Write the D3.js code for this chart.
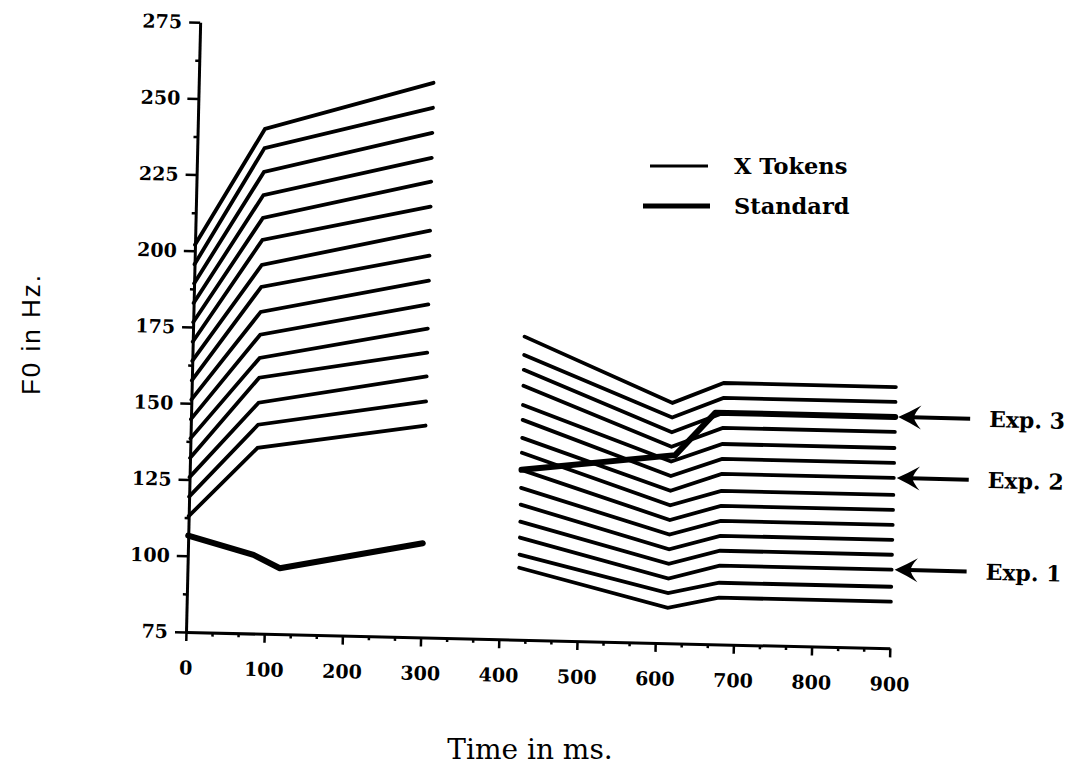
<!DOCTYPE html>
<html><head><meta charset="utf-8">
<script src="https://cdn.jsdelivr.net/npm/d3@7"></script>
<style>body{margin:0;background:#fff}</style>
</head><body>
<svg id="chart" width="1077" height="778"></svg>
<script>
// ---- data ----
const xTickValues = [0,100,200,300,400,500,600,700,800,900];
const yTickValues = [75,100,125,150,175,200,225,250,275];
const earlyTimes = [0, 86, 300];
const earlyOnset = [202.0,195.6,189.3,182.9,176.6,170.2,163.9,157.5,151.2,144.8,138.5,132.1,125.8,119.4,113.0];
const earlyPeak  = [240.5,234.2,226.4,218.8,211.3,204.1,195.9,188.7,180.5,173.0,165.4,158.9,150.7,143.5,135.9];
const earlyOffset= [256.9,248.7,240.5,232.3,224.5,216.3,208.4,200.2,192.0,184.2,176.3,168.4,160.6,152.4,144.5];
const lateTimes = [424, 615, 680, 900];
const lateOnset = [174.4,168.4,163.5,158.3,152.0,147.1,141.2,136.3,130.7,124.8,119.3,113.7,108.5,102.9,98.6];
const lateDip   = [153.8,149.0,144.2,139.4,134.6,129.8,125.0,120.2,115.4,110.6,105.8,101.0,96.2,91.4,86.6];
const lateLevel = [160.7,155.8,150.9,146.0,140.7,135.8,130.9,125.3,120.4,115.5,110.6,105.7,100.8,95.2,90.3];
const standardEarlyTimes = [0, 84, 118, 300];
const standardEarly = [106.6, 100.8, 96.6, 105.9];
const standardLateTimes = [424, 620, 670, 900];
const standardLate = [130.7, 136.7, 150.9, 150.9];
const expLabels = ["Exp. 3", "Exp. 2", "Exp. 1"];
const expLine = [2, 6, 12];
const legendLabels = ["X Tokens", "Standard"];
const xTitle = "Time in ms.";
const yTitle = "F0 in Hz.";

// ---- drawing ----
const svg = d3.select("#chart");
const x = d3.scaleLinear().domain([0, 900]).range([0, 704]);
const y = d3.scaleLinear().domain([75, 275]).range([0, -610]);
const g = svg.append("g").attr("transform", "translate(186,632) rotate(1.33)");
const serif = "'DejaVu Serif', 'Liberation Serif', serif";

// x axis
g.append("g").call(d3.axisBottom(x).tickValues(xTickValues)
  .tickSizeInner(9).tickSizeOuter(0).tickPadding(20));
const minorX = d3.range(0, 900, 100/3).filter((d,i) => i % 3 !== 0);
g.append("g").call(d3.axisBottom(x).tickValues(minorX).tickSize(4).tickFormat(""))
  .select(".domain").remove();
// y axis
g.append("g").call(d3.axisLeft(y).tickValues(yTickValues)
  .tickSizeInner(11).tickSizeOuter(0).tickPadding(7));
const minorY = yTickValues.slice(0, -1).map(v => v + 12.5);
g.append("g").call(d3.axisLeft(y).tickValues(minorY).tickSize(4).tickFormat(""))
  .select(".domain").remove();

g.selectAll(".domain").attr("stroke", "#000").attr("stroke-width", 3);
g.selectAll(".tick line").attr("stroke", "#000").attr("stroke-width", 2.5);
g.selectAll(".tick text").attr("fill", "#000")
  .style("font-family", serif).style("font-weight", "bold").style("font-size", "19px");

const line = d3.line().x(d => x(d[0])).y(d => y(d[1]));

// X tokens
const early = earlyOnset.map((v, i) => [[earlyTimes[0], v], [earlyTimes[1], earlyPeak[i]], [earlyTimes[2], earlyOffset[i]]]);
const late = lateOnset.map((v, i) => [[lateTimes[0], v], [lateTimes[1], lateDip[i]], [lateTimes[2], lateLevel[i]], [lateTimes[3], lateLevel[i]]]);
g.selectAll("path.tok").data(early.concat(late)).join("path").attr("class", "tok")
  .attr("d", line).attr("fill", "none").attr("stroke", "#000")
  .attr("stroke-width", 3.8).attr("stroke-linecap", "round").attr("stroke-linejoin", "miter");

// Standard
const std = [standardEarlyTimes.map((t, i) => [t, standardEarly[i]]),
             standardLateTimes.map((t, i) => [t, standardLate[i]])];
g.selectAll("path.std").data(std).join("path").attr("class", "std")
  .attr("d", line).attr("fill", "none").attr("stroke", "#000")
  .attr("stroke-width", 6).attr("stroke-linecap", "round").attr("stroke-linejoin", "round");

// Exp. arrows
expLabels.forEach((lab, i) => {
  const yy = y(lateLevel[expLine[i]]);
  const tip = x(900) + 3;
  g.append("line").attr("x1", tip + 14).attr("x2", tip + 72).attr("y1", yy).attr("y2", yy)
    .attr("stroke", "#000").attr("stroke-width", 4);
  g.append("path").attr("transform", `translate(${tip},${yy})`)
    .attr("d", "M0,0 Q11,-5 23,-12 Q16,-4 16,0 Q16,4 23,12 Q11,5 0,0 Z").attr("fill", "#000");
  g.append("text").attr("x", tip + 91).attr("y", yy + 8).text(lab)
    .style("font-family", serif).style("font-weight", "bold").style("font-size", "22px");
});

// legend
const legY = [166, 206];
const legX1 = [650, 643], legX2 = [708, 710], legW = [3, 5];
legendLabels.forEach((lab, i) => {
  svg.append("line").attr("x1", legX1[i]).attr("x2", legX2[i]).attr("y1", legY[i]).attr("y2", legY[i])
    .attr("stroke", "#000").attr("stroke-width", legW[i]);
  svg.append("text").attr("x", 734).attr("y", legY[i] + 8).text(lab)
    .style("font-family", serif).style("font-weight", "bold").style("font-size", "22.5px");
});

// titles
svg.append("text").attr("x", 530).attr("y", 759).attr("text-anchor", "middle").text(xTitle)
  .style("font-family", serif).style("font-size", "28px");
svg.append("text").attr("transform", "translate(40,334) rotate(-90)").attr("text-anchor", "middle")
  .text(yTitle).style("font-family", "'Liberation Sans', Arial, sans-serif")
  .style("font-size", "26px").style("letter-spacing", "2px");
</script>
</body></html>
